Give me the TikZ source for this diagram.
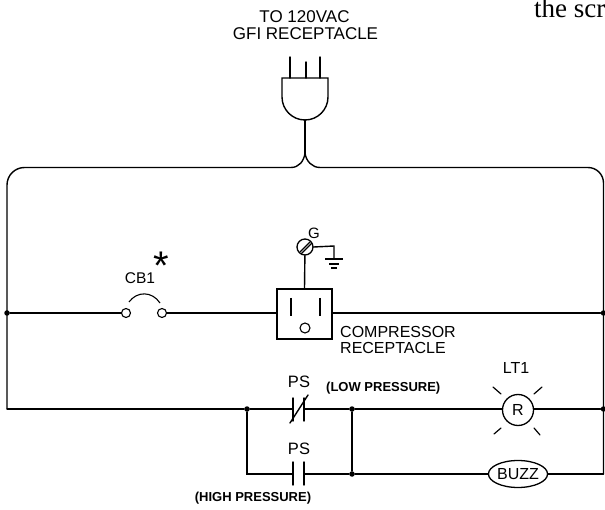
\documentclass[tikz,border=0pt]{standalone}
\usepackage{fontspec}
\setmainfont{Liberation Serif}
\newfontfamily\cadfont{Liberation Sans}
\usetikzlibrary{shapes.geometric}
\begin{document}
\begin{tikzpicture}[x=1pt,y=-1pt,
  wire/.style={line width=1.4pt,line cap=round},
  fine/.style={line width=1.1pt},
  cad/.style={font=\cadfont\fontsize{#1}{#1}\selectfont,inner sep=0pt},
  cad/.default=17,
  small/.style={font=\cadfont\bfseries\fontsize{13}{13}\selectfont,inner sep=0pt},
  jn/.style={circle,fill=black,minimum size=5.5pt,inner sep=0pt},
  term/.style={circle,draw,line width=1.1pt,fill=white,minimum size=9pt,inner sep=0pt}]
\useasboundingbox (0,0) rectangle (605,510);
\node[font=\fontsize{27}{27}\selectfont,anchor=base west,inner sep=0pt] at (534,18) {the scr};
\node[cad] (t1a) at (304.5,17) {TO 120VAC};
\node[cad] (t1b) at (305.5,34) {GFI RECEPTACLE};
% plug
\coordinate (plugL) at (282,78);
\coordinate (plugR) at (328,78);
\draw[wire] (plugL) -- (plugR) -- (328,97) arc[start angle=0,end angle=180,radius=23] -- cycle;
\draw[wire] (290,57) -- (290,78) (306,62) -- (306,78) (320,57) -- (320,78);
\coordinate (plugB) at (305,120);
\coordinate (cusp) at (305,153);
\draw[wire] (plugB) -- (cusp);
% main bus
\coordinate (L1) at (7,313);
\coordinate (R1) at (603.5,313);
\draw[wire] (7,408.5) -- (7,185) arc[start angle=180,end angle=270,radius=17.5] -- (291,167.5)
  .. controls (299,167.5) and (304,161) .. (cusp) .. controls (306,161) and (312,167.5) .. (320,167.5)
  -- (588,167.5) arc[start angle=-90,end angle=0,radius=15.5] -- (603.5,474);
% row 1
\node[jn] (j1) at (L1) {};
\node[jn] (j2) at (R1) {};
\node[term] (t1) at (126,313) {};
\node[term] (t2) at (162,313) {};
\draw[wire] (j1) -- (t1);
\draw[fine] (129,302) .. controls (137,291) and (152,291) .. (160,303);
\node[cad=15.5] (cb) at (140,278) {CB1};
\node[font=\fontsize{40}{40}\selectfont\cadfont,anchor=base,inner sep=0pt] (star) at (161,280) {*};
\node[draw,line width=1.3pt,minimum width=55pt,minimum height=50pt,inner sep=0pt] (rec) at (304.5,314) {};
\draw[wire] (t2) -- (rec.west |- t2);
\draw[wire] (rec.east |- j2) -- (j2);
\draw[fine] (291,298) -- (291,316) (320,298) -- (320,316);
\node[circle,draw,line width=1.1pt,minimum size=10pt,inner sep=0pt] (hole) at (305,328) {};
\node[cad=16,anchor=west] (comp1) at (340,332) {COMPRESSOR};
\node[cad=16,anchor=west] (comp2) at (340,348) {RECEPTACLE};
% ground
\node[circle,draw,line width=1.3pt,minimum size=16pt,inner sep=0pt] (g) at (305,247) {};
\draw[wire] (g) -- (rec.north);
\draw[fine] (300,252) -- (310,242) (301,254) -- (312,243);
\coordinate (gc) at (334,246);
\coordinate (gb) at (334,259);
\draw[wire] (g.east) -- (gc) -- (gb);
\draw[fine] (325,259) -- (343,259) (329,264) -- (339,264) (331,268) -- (337,268);
\node[cad=15] (glbl) at (314,233) {G};
% row 2
\coordinate (R2L) at (7,409);
\node[jn] (j3) at (247,409) {};
\node[jn] (j4) at (352,409) {};
\node[jn] (j5) at (352,474) {};
\node[jn] (j6) at (603.5,409) {};
\node[circle,draw,line width=1.3pt,minimum size=31pt,inner sep=0pt,font=\cadfont\fontsize{16}{16}\selectfont] (lt) at (518,410) {R};
\node[cad=16] (ltl) at (516,368) {LT1};
\draw[wire] (R2L) -- (j3) -- (293,409);
\draw[wire] (304,409) -- (j4) -- (lt.west |- j4);
\draw[wire] (lt.east |- j6) -- (j6);
\draw[wire] (293,398) -- (293,421) (304,398) -- (304,421);
\draw[wire] (290,423) -- (308,395);
\node[cad=16.5] (ps1) at (299,382) {PS};
\node[small,anchor=west] (low) at (326,388) {(LOW PRESSURE)};
\draw[wire,line width=1.2pt] (493,387) -- (501,394) (542,387) -- (534,394) (494,434) -- (501,428) (540,435) -- (534,428);
% row 3
\draw[wire] (j3) -- (247,474) -- (293,474);
\draw[wire] (304,474) -- (j5) -- (j4);
\draw[wire] (293,462) -- (293,485) (304,462) -- (304,485);
\node[cad=16.5] (ps2) at (299,449) {PS};
\node[small] (high) at (253,498) {(HIGH PRESSURE)};
\node[ellipse,draw,line width=1.3pt,minimum width=53pt,minimum height=27pt,inner sep=0pt,font=\cadfont\fontsize{16}{16}\selectfont] (buzz) at (518,474) {BUZZ};
\draw[wire] (j5) -- (buzz.west);
\draw[wire] (buzz.east) -- (603.5,474);
\end{tikzpicture}
\end{document}
